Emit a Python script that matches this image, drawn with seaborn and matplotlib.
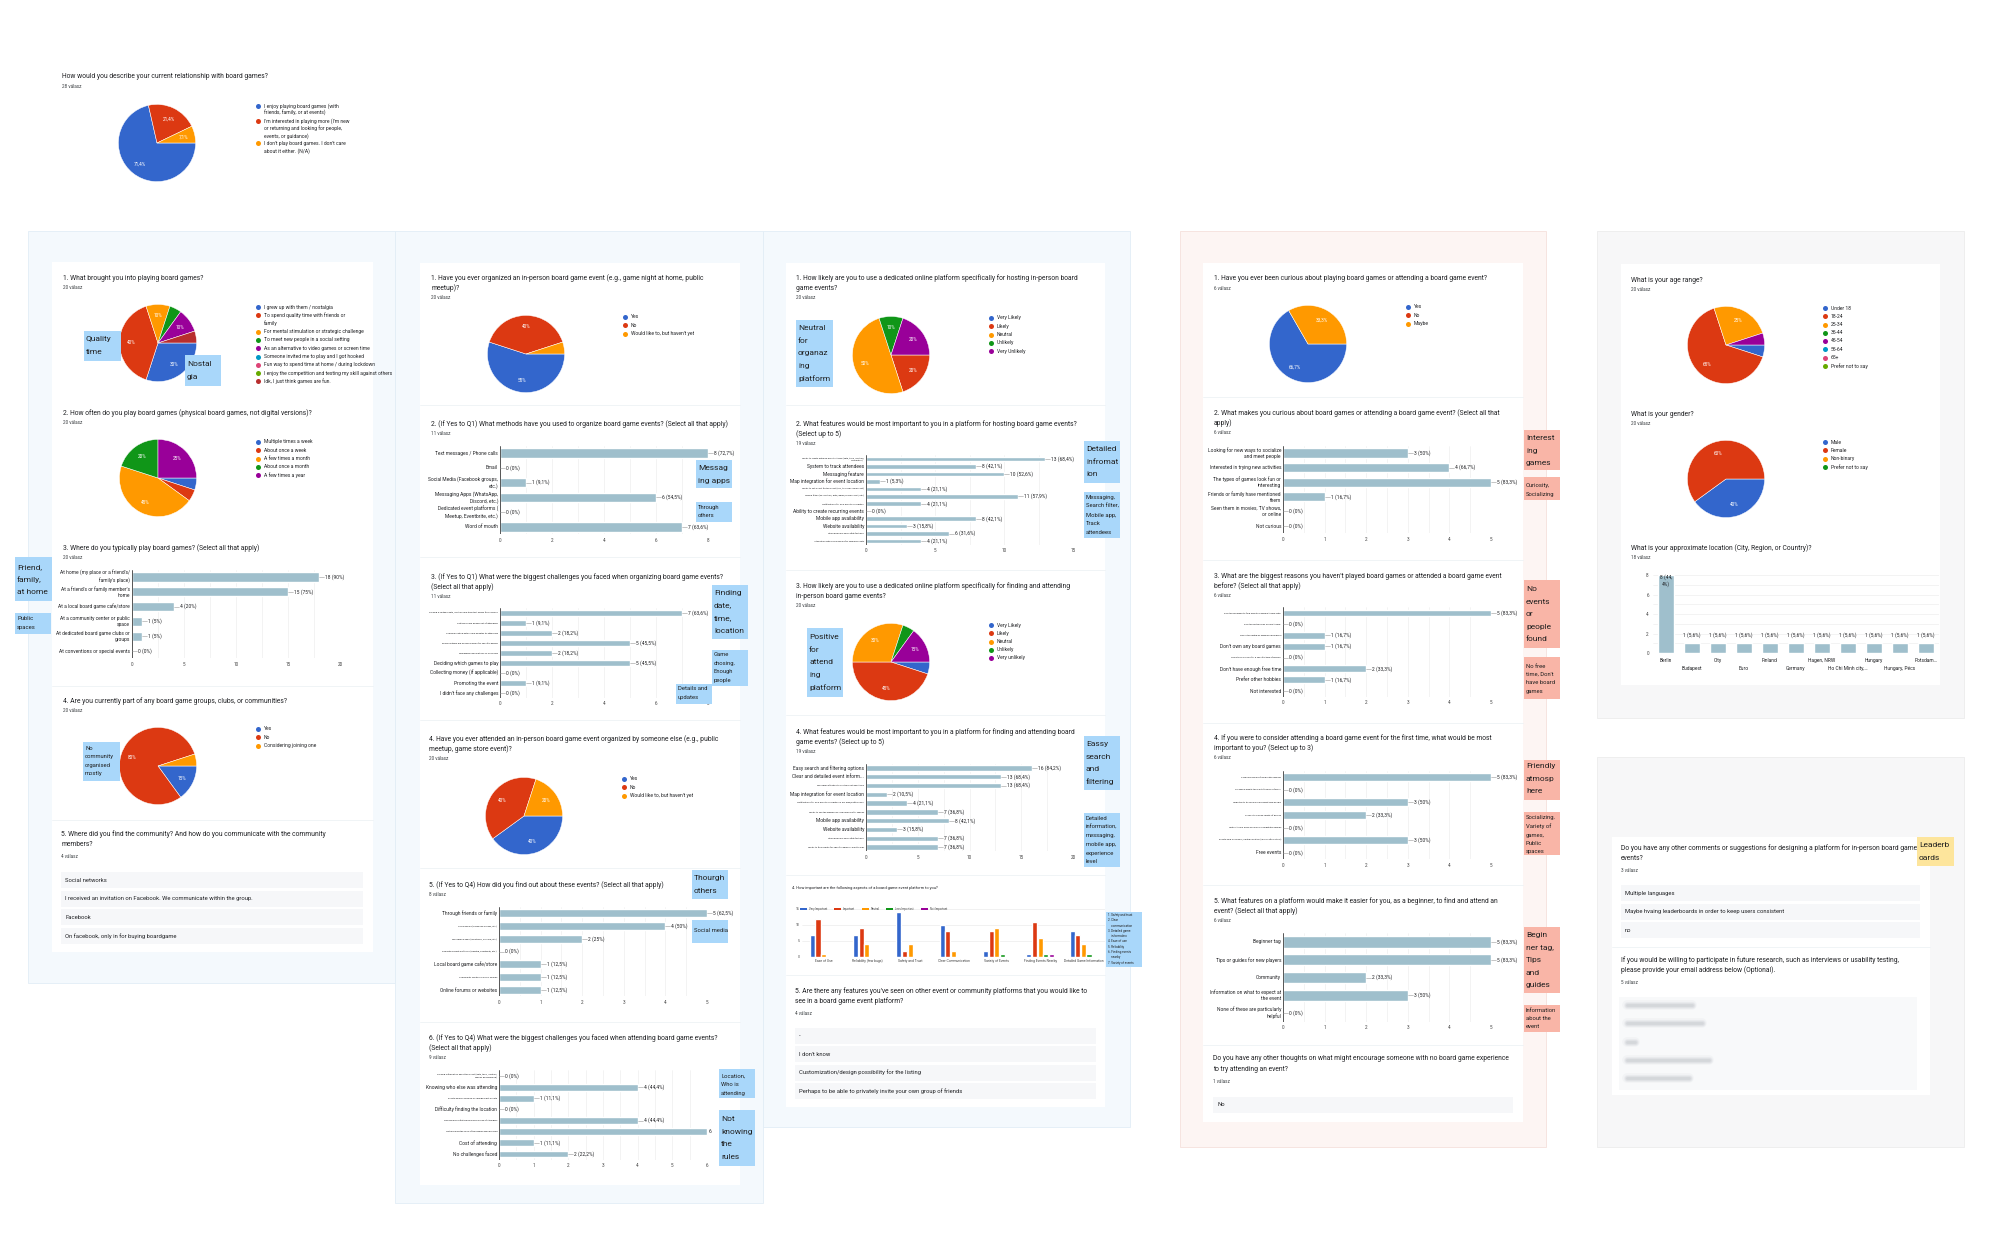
import numpy as np
import pandas as pd
import matplotlib
matplotlib.use("Agg")
from matplotlib import pyplot as plt
from matplotlib.patches import Rectangle
import seaborn as sns

sns.set_theme(style="white")
plt.rcParams["font.family"] = ["Roboto", "DejaVu Sans"]

W, H = 2000, 1257
GOOGLE = ["#3366cc", "#dc3912", "#ff9900", "#109618", "#990099",
          "#0099c6", "#dd4477", "#66aa00", "#b82e2e"]
BAR = "#9fbfcc"
BLUE_NOTE = "#a9d7fa"
RED_NOTE = "#f9b5a7"
YELLOW_NOTE = "#fde59c"
INK = "#202124"

# ---------------- data ----------------
relation_labels = ["I enjoy playing board games (with\nfriends, family, or at events)",
                   "I'm interested in playing more (I'm new\nor returning and looking for people,\nevents, or guidance)",
                   "I don't play board games. I don't care\nabout it either. (N/A)"]
relation_counts = [20, 6, 2]

# column 1 - board game habits
brought_labels = ["I grew up with them / nostalgia",
                  "To spend quality time with friends or\nfamily",
                  "For mental stimulation or strategic challenge",
                  "To meet new people in a social setting",
                  "As an alternative to video games or screen time",
                  "Someone invited me to play and I got hooked",
                  "Fun way to spend time at home / during lockdown",
                  "I enjoy the competition and testing my skill against others",
                  "Idk, I just think games are fun."]
brought_counts = [6, 8, 2, 1, 2, 0, 0, 0, 1]

often_labels = ["Multiple times a week", "About once a week", "A few times a month",
                "About once a month", "A few times a year"]
often_counts = [1, 1, 9, 4, 5]

where_labels = ["At home (my place or a friend's/\nfamily's place)",
                "At a friend's or family member's\nhome",
                "At a local board game cafe/store",
                "At a community center or public\nspace",
                "At dedicated board game clubs or\ngroups",
                "At conventions or special events"]
where_counts = [18, 15, 4, 1, 1, 0]

community_labels = ["Yes", "No", "Considering joining one"]
community_counts = [3, 16, 1]

community_answers = ["Social networks",
                     "I received an invitation on Facebook. We communicate within the group.",
                     "Facebook",
                     "On facebook, only in for buying boardgame"]

# column 2 - organizers / attendees
organized_labels = ["Yes", "No", "Would like to, but haven't yet"]
organized_counts = [11, 8, 1]

methods_labels = ["Text messages / Phone calls", "Email",
                  "Social Media (Facebook groups,\netc.)",
                  "Messaging Apps (WhatsApp,\nDiscord, etc.)",
                  "Dedicated event platforms (\nMeetup, Eventbrite, etc.)",
                  "Word of mouth"]
methods_counts = [8, 0, 1, 6, 0, 7]

org_problem_labels = ["Finding a suitable date, location and time that works for everyone",
                      "Getting a clear headcount of attendees",
                      "Communicating details and updates to attendees",
                      "Ensuring there are enough players for specific games",
                      "Managing cancellations or no-shows",
                      "Deciding which games to play",
                      "Collecting money (if applicable)",
                      "Promoting the event",
                      "I didn't face any challenges"]
org_problem_counts = [7, 1, 2, 5, 2, 5, 0, 1, 0]

attended_labels = ["Yes", "No", "Would like to, but haven't yet"]
attended_counts = [8, 8, 4]

found_labels = ["Through friends or family",
                "Social Media (Facebook groups, etc.)",
                "Messaging Apps (WhatsApp, Discord, etc.)",
                "Dedicated event platforms (Meetup, Eventbrite, etc.)",
                "Local board game cafe/store",
                "Community centers or public spaces",
                "Online forums or websites"]
found_counts = [5, 4, 2, 0, 1, 1, 1]

att_problem_labels = ["Finding information about the event (date, time, location,\ngames being played)",
                      "Knowing who else was attending",
                      "Events being cancelled or changed last minute",
                      "Difficulty finding the location",
                      "Feeling uncomfortable joining a group of strangers",
                      "Not knowing the rules of the games being played",
                      "Cost of attending",
                      "No challenges faced"]
att_problem_counts = [0, 4, 1, 0, 4, 6, 1, 2]

# column 3 - platform
hosting_labels = ["Very Likely", "Likely", "Neutral", "Unlikely", "Very Unlikely"]
hosting_counts = [0, 4, 10, 2, 4]

host_feature_labels = ["Ability to create detailed event listings (date, time, location,\ndescription)",
                       "System to track attendees", "Messaging feature",
                       "Map integration for event location",
                       "Ability to set a cost for the event (e.g., to cover venue cost)",
                       "Search filters (by location, date, game, player count, etc.)",
                       "Notifications for new events or updates",
                       "Ability to create recurring events",
                       "Mobile app availability", "Website availability",
                       "Strong privacy and safety features",
                       "Integration with social media for sharing events"]
host_feature_counts = [13, 8, 10, 1, 4, 11, 4, 0, 8, 3, 6, 4]

attending_labels = ["Very Likely", "Likely", "Neutral", "Unlikely", "Very unlikely"]
attending_counts = [1, 9, 6, 1, 3]

find_feature_labels = ["Easy search and filtering options",
                       "Clear and detailed event inform...",
                       "Messaging feature to ask the host questions",
                       "Map integration for event location",
                       "Notifications for new events or updates in my area/preferences",
                       "Ability to see the experience level required for games",
                       "Mobile app availability", "Website availability",
                       "Strong privacy and safety features",
                       "Ability to find events for specific games I want to play"]
find_feature_counts = [16, 13, 13, 2, 4, 7, 8, 3, 7, 7]

aspect_labels = ["Ease of Use", "Reliability (few bugs)", "Safety and Trust",
                 "Clear Communication", "Variety of Events", "Finding Events Nearby",
                 "Detailed Game Information"]
importance_levels = ["Very Important", "Important", "Neutral", "Less Important", "Not Important"]
very_important = [7, 7, 14, 10, 2, 1, 8]
important = [12, 9, 2, 8, 8, 11, 7]
neutral = [1, 4, 4, 2, 9, 6, 4]
less_important = [0, 0, 0, 0, 1, 1, 1]
not_important = [0, 0, 0, 0, 0, 1, 0]

other_feature_answers = ["-", "I don't know",
                         "Customization/design possibility for the listing",
                         "Perhaps to be able to privately invite your own group of friends"]

# column 4 - non players
curious_labels = ["Yes", "No", "Maybe"]
curious_counts = [4, 0, 2]

curious_why_labels = ["Looking for new ways to socialize\nand meet people",
                      "Interested in trying new activities",
                      "The types of games look fun or\ninteresting",
                      "Friends or family have mentioned\nthem",
                      "Seen them in movies, TV shows,\nor online",
                      "Not curious"]
curious_why_counts = [3, 4, 5, 1, 0, 0]

not_played_labels = ["Don't know where to find events or people to play with",
                     "Don't know the rules or how to play",
                     "Feel intimidated by experienced players",
                     "Don't own any board games",
                     "Think they are only for a specific type of person",
                     "Don't have enough free time",
                     "Prefer other hobbies",
                     "Not interested"]
not_played_counts = [5, 0, 1, 1, 0, 2, 1, 0]

first_time_labels = ["A welcoming and friendly atmosphere",
                     "To spend quality time with friends or family",
                     "Opportunity to socialize and meet new people",
                     "Access to a wide variety of games",
                     "Option to join more serious or competitive games",
                     "Events held in a public, neutral location (like a cafe or store)",
                     "Free events"]
first_time_counts = [5, 0, 3, 2, 0, 3, 0]

beginner_labels = ["Beginner tag", "Tips or guides for new players", "Community",
                   "Information on what to expect at\nthe event",
                   "None of these are particularly\nhelpful"]
beginner_counts = [5, 5, 2, 3, 0]

encourage_answers = ["No"]

# column 5 - demographics
age_labels = ["Under 18", "18-24", "25-34", "35-44", "45-54", "55-64", "65+", "Prefer not to say"]
age_counts = [1, 13, 5, 0, 1, 0, 0, 0]

gender_labels = ["Male", "Female", "Non-binary", "Prefer not to say"]
gender_counts = [8, 12, 0, 0]

location_labels = ["Berlin", "Budapest", "City", "Euro", "Finland", "Germany", "Hagen, NRW",
                   "Ho Chi Minh city,…", "Hungary", "Hungary, Pécs", "Potsdam…"]
location_counts = [8, 1, 1, 1, 1, 1, 1, 1, 1, 1, 1]

comment_answers = ["Multiple languages",
                   "Maybe hvaing leaderboards in order to keep users consistent",
                   "no"]


# ---------------- helpers ----------------
fig = plt.figure(figsize=(20, 12.57), dpi=100)
fig.patch.set_facecolor("white")

TITLE = 4.9
SMALL = 3.5


def frac(x0, y0, x1, y1):
    return [x0 / W, 1 - y1 / H, (x1 - x0) / W, (y1 - y0) / H]


def canvas(z):
    ax = fig.add_axes([0, 0, 1, 1], zorder=z)
    ax.set_xlim(0, W)
    ax.set_ylim(H, 0)
    ax.set_autoscale_on(False)
    ax.axis("off")
    return ax


bg = canvas(-10)
fg = canvas(10)


def block(ax, x0, y0, x1, y1, color, edge="none", lw=0):
    ax.add_patch(Rectangle((x0, y0), x1 - x0, y1 - y0, facecolor=color,
                           edgecolor=edge, linewidth=lw))


def write(x, y, s, size=TITLE, color=INK, ha="left"):
    fg.text(x, y, s, fontsize=size, color=color, va="center", ha=ha)


def question(x, y, lines, count_text, gap=9.5):
    for i, s in enumerate(lines):
        write(x, y + i * 10.3, s)
    write(x, y + (len(lines) - 1) * 10.3 + gap, count_text, size=3.3, color="#3c4043")


def pct(v, total):
    p = v / total * 100
    if abs(p - round(p)) < 0.05:
        return f"{round(p)}%"
    return f"{p:.1f}%".replace(".", ",")


def pie(cx, cy, r, counts):
    ax = fig.add_axes(frac(cx - r, cy - r, cx + r, cy + r))
    vals = [c for c in counts if c > 0]
    cols = [GOOGLE[i] for i, c in enumerate(counts) if c > 0]
    ax.pie(vals, colors=cols, startangle=0, counterclock=False,
           wedgeprops=dict(edgecolor="white", linewidth=0.35))
    ax.set_xlim(-1.01, 1.01)
    ax.set_ylim(-1.01, 1.01)
    total = sum(vals)
    start = 0.0
    for v in vals:
        share = v / total
        mid = np.deg2rad(start - share * 180)
        if share > 0.06:
            ax.text(0.7 * np.cos(mid), 0.7 * np.sin(mid), pct(v, total),
                    ha="center", va="center", color="white", fontsize=3.4)
        start -= share * 360


def legend(x, y, labels, colors, dy=8.25):
    line = 0
    for lab, col in zip(labels, colors):
        fg.scatter([x], [y + line * dy], s=13, color=col, linewidths=0)
        parts = lab.split("\n")
        for j, part in enumerate(parts):
            write(x + 6, y + (line + j) * dy, part, size=3.6)
        line += len(parts)


def hbar(x0, x1, yc0, yc1, labels, counts, total, tmax, step, tiny=(), covered=()):
    n = len(counts)
    gap = (yc1 - yc0) / (n - 1)
    ax = fig.add_axes(frac(x0, yc0 - gap / 2, x1, yc1 + gap / 2))
    ax.set_facecolor("none")
    df = pd.DataFrame({"label": labels, "count": counts})
    sns.barplot(data=df, x="count", y="label", orient="h", color=BAR,
                saturation=1, width=0.62, ax=ax)
    ppu = (x1 - x0) / tmax
    major = np.arange(0, tmax + step / 2, step)
    ax.set_xticks(major)
    ax.set_xticklabels([f"{t:g}" for t in major])
    ax.set_xticks(np.arange(0, tmax + step / 4, step / 2), minor=True)
    ax.grid(True, axis="x", which="both", color="#ebebeb", lw=0.4)
    ax.set_axisbelow(True)
    ax.tick_params(axis="x", which="both", length=0, labelsize=3.3,
                   labelcolor="#444444", pad=2.5)
    ax.set_yticks([])
    ax.set_xlim(0, tmax)
    ax.set_ylim(n - 0.5, -0.5)
    ax.set_xlabel("")
    ax.set_ylabel("")
    sns.despine(ax=ax, left=True, bottom=True)
    ax.axvline(0, color="#3c3c3c", lw=0.6)
    for i, (lab, v) in enumerate(zip(labels, counts)):
        ax.text(-2 / ppu, i, lab, ha="right", va="center",
                fontsize=1.7 if i in tiny else SMALL, color=INK, linespacing=1.3)
        # a sticky note hides everything but the count on covered rows
        value = f"{v}" if i in covered else f"{v} ({pct(v, total)})"
        if i in covered:
            ax.text(v + 2 / ppu, i, value, va="center", fontsize=SMALL, color=INK)
        else:
            ax.plot([v, v + 5 / ppu], [i, i], color="#9a9a9a", lw=0.4, clip_on=False)
            ax.text(v + 6 / ppu, i, value, va="center", fontsize=SMALL, color=INK)
    return ax


def answers(x0, x1, top, texts, step=18.6, h=16):
    for i, s in enumerate(texts):
        y = top + i * step
        block(bg, x0, y, x1, y + h, "#f6f7f9")
        write(x0 + 4, y + h / 2, s, size=4.2)


def note(x0, y0, x1, y1, lines, ytop, color, size=6.0, dy=12.6):
    block(fg, x0, y0, x1, y1, color)
    for i, s in enumerate(lines):
        write(x0 + 2, ytop + i * dy, s, size=size, color="#1f1f1f")


# ---------------- background panels ----------------
for x0, y0, x1, y1, col, edge in [(28, 231, 395, 983, "#f4f9fd", "#e2edf6"),
                                  (395, 231, 763, 1203, "#f4f9fd", "#e2edf6"),
                                  (763, 231, 1130, 1127, "#f4f9fd", "#e2edf6"),
                                  (1180, 231, 1546, 1147, "#fdf5f3", "#f5e1dc"),
                                  (1597, 231, 1964, 718, "#f7f7f8", "#ececec"),
                                  (1597, 757, 1964, 1147, "#f7f7f8", "#ececec")]:
    block(bg, x0, y0, x1, y1, col, edge, 0.6)

for x0, y0, x1, y1 in [(52, 262, 373, 952), (420, 263, 740, 1185), (786, 263, 1105, 1107),
                       (1203, 263, 1523, 1122), (1621, 264, 1940, 685), (1612, 837, 1930, 1095)]:
    block(bg, x0, y0, x1, y1, "white")

# faint dividers between question cards
for x0, x1, yy in [(52, 373, 686), (52, 373, 820), (420, 740, 405), (420, 740, 557),
                   (420, 740, 720), (420, 740, 868), (420, 740, 1022), (786, 1105, 405),
                   (786, 1105, 570), (786, 1105, 715), (786, 1105, 875), (786, 1105, 975),
                   (1203, 1523, 397), (1203, 1523, 560), (1203, 1523, 723), (1203, 1523, 885),
                   (1203, 1523, 1045), (1612, 1930, 947)]:
    bg.plot([x0, x1], [yy, yy], color="#eef2f5", lw=0.6)

# ---------------- top question ----------------
question(62, 77, ["How would you describe your current relationship with board games?"], "28 válasz")
pie(157, 143, 39, relation_counts)
legend(258, 106, relation_labels, GOOGLE, dy=7.45)

# ---------------- column 1 ----------------
question(63, 278, ["1. What brought you into playing board games?"], "20 válasz")
pie(158, 343, 39, brought_counts)
legend(258, 307, brought_labels, GOOGLE)

question(63, 413, ["2. How often do you play board games (physical board games, not digital versions)?"], "20 válasz")
pie(158, 478, 39, often_counts)
legend(258, 442, often_labels, GOOGLE)

question(63, 548, ["3. Where do you typically play board games? (Select all that apply)"], "20 válasz")
hbar(132, 340, 577, 651, where_labels, where_counts, 20, 20, 5)

question(63, 701, ["4. Are you currently part of any board game groups, clubs, or communities?"], "20 válasz")
pie(158, 766, 39, community_counts)
legend(258, 729, community_labels, GOOGLE)

question(61, 834, ["5. Where did you find the community? And how do you communicate with the community",
                   "members?"], "4 válasz", gap=12)
answers(61, 363, 872, community_answers)

# ---------------- column 2 ----------------
question(431, 278, ["1. Have you ever organized an in-person board game event (e.g., game night at home, public",
                    "meetup)?"], "20 válasz")
pie(526, 354, 39, organized_counts)
legend(625, 317, organized_labels, GOOGLE)

question(431, 424, ["2. (If Yes to Q1) What methods have you used to organize board game events? (Select all that apply)"],
         "11 válasz")
hbar(500, 708, 453, 527, methods_labels, methods_counts, 11, 8, 2)

question(431, 577, ["3. (If Yes to Q1) What were the biggest challenges you faced when organizing board game events?",
                    "(Select all that apply)"], "11 válasz")
hbar(500, 708, 613, 693, org_problem_labels, org_problem_counts, 11, 8, 2, tiny=(0, 1, 2, 3, 4))

question(429, 739, ["4. Have you ever attended an in-person board game event organized by someone else (e.g., public",
                    "meetup, game store event)?"], "20 válasz")
pie(524, 816, 39, attended_counts)
legend(624, 779, attended_labels, GOOGLE)

question(429, 885, ["5. (If Yes to Q4) How did you find out about these events? (Select all that apply)"], "8 válasz")
hbar(499, 707, 913, 990, found_labels, found_counts, 8, 5, 1, tiny=(1, 2, 3, 5))

question(429, 1038, ["6. (If Yes to Q4) What were the biggest challenges you faced when attending board game events?",
                     "(Select all that apply)"], "9 válasz")
hbar(499, 707, 1076, 1154, att_problem_labels, att_problem_counts, 9, 6, 1,
     tiny=(0, 2, 4, 5), covered=(5,))

# ---------------- column 3 ----------------
question(796, 278, ["1. How likely are you to use a dedicated online platform specifically for hosting in-person board",
                    "game events?"], "20 válasz")
pie(891, 355, 39, hosting_counts)
legend(991, 318, hosting_labels, GOOGLE)

question(796, 424, ["2. What features would be most important to you in a platform for hosting board game events?",
                    "(Select up to 5)"], "19 válasz")
hbar(866, 1073, 459, 541, host_feature_labels, host_feature_counts, 19, 15, 5, tiny=(0, 4, 5, 6, 10, 11))

question(796, 586, ["3. How likely are you to use a dedicated online platform specifically for finding and attending",
                    "in-person board game events?"], "20 válasz")
pie(891, 662, 39, attending_counts)
legend(991, 625, attending_labels, GOOGLE)

question(796, 732, ["4. What features would be most important to you in a platform for finding and attending board",
                    "game events? (Select up to 5)"], "19 válasz")
hbar(866, 1073, 768, 847, find_feature_labels, find_feature_counts, 19, 20, 5, tiny=(2, 4, 5, 8, 9))

# grouped importance chart
write(792, 888, "4. How important are the following aspects of a board game event platform to you?", size=2.9)
imp = pd.DataFrame({"aspect": aspect_labels * len(importance_levels),
                    "level": np.repeat(importance_levels, len(aspect_labels)),
                    "count": very_important + important + neutral + less_important + not_important})
ax = fig.add_axes(frac(802, 909, 1105, 957))
ax.set_facecolor("none")
sns.barplot(data=imp, x="aspect", y="count", hue="level", palette=GOOGLE[:5], saturation=1,
            width=0.65, gap=0.1, legend=False, ax=ax)
ax.set_ylim(0, 15)
ax.set_xlim(-0.5, len(aspect_labels) - 0.5)
ax.set_yticks([0, 5, 10, 15])
ax.grid(True, axis="y", color="#e6e6e6", lw=0.4)
ax.set_axisbelow(True)
ax.tick_params(length=0, labelsize=2.4, labelcolor="#444444", pad=1.5)
ax.set_xlabel("")
ax.set_ylabel("")
sns.despine(ax=ax, left=True, bottom=True)
ax.axhline(0, color="#3c3c3c", lw=0.5)
for lx, lev, col in zip([800, 834, 862, 886, 921], importance_levels, GOOGLE):
    block(fg, lx, 907.8, lx + 7, 910.2, col)
    write(lx + 9, 909, lev, size=2.0, color="#444444")

question(795, 991, ["5. Are there any features you've seen on other event or community platforms that you would like to",
                    "see in a board game event platform?"], "4 válasz", gap=12)
answers(795, 1096, 1028, other_feature_answers, step=18.3)

# ---------------- column 4 ----------------
question(1214, 279, ["1. Have you ever been curious about playing board games or attending a board game event?"], "6 válasz")
pie(1308, 344, 39, curious_counts)
legend(1408, 307, curious_labels, GOOGLE)

question(1214, 413, ["2. What makes you curious about board games or attending a board game event? (Select all that",
                     "apply)"], "6 válasz")
hbar(1283, 1491, 453, 526, curious_why_labels, curious_why_counts, 6, 5, 1)

question(1214, 576, ["3. What are the biggest reasons you haven't played board games or attended a board game event",
                     "before? (Select all that apply)"], "6 válasz")
hbar(1283, 1491, 613, 691, not_played_labels, not_played_counts, 6, 5, 1, tiny=(0, 1, 2, 4))

question(1214, 738, ["4. If you were to consider attending a board game event for the first time, what would be most",
                     "important to you? (Select up to 3)"], "6 válasz")
hbar(1283, 1491, 777, 853, first_time_labels, first_time_counts, 6, 5, 1, tiny=(0, 1, 2, 3, 4, 5))

question(1214, 901, ["5. What features on a platform would make it easier for you, as a beginner, to find and attend an",
                     "event? (Select all that apply)"], "6 válasz")
hbar(1283, 1491, 942, 1013, beginner_labels, beginner_counts, 6, 5, 1)

question(1213, 1059, ["Do you have any other thoughts on what might encourage someone with no board game experience",
                      "to try attending an event?"], "1 válasz", gap=12)
answers(1213, 1513, 1097, encourage_answers)

# ---------------- column 5 ----------------
question(1631, 280, ["What is your age range?"], "20 válasz")
pie(1726, 345, 39, age_counts)
legend(1825, 308, age_labels, GOOGLE)

question(1631, 414, ["What is your gender?"], "20 válasz")
pie(1726, 479, 39, gender_counts)
legend(1825, 442, gender_labels, GOOGLE)

question(1631, 548, ["What is your approximate location (City, Region, or Country)?"], "18 válasz")
ax = fig.add_axes(frac(1653, 575, 1939, 653))
ax.set_facecolor("none")
sns.barplot(x=location_labels, y=location_counts, color=BAR, saturation=1, width=0.6, ax=ax)
ax.set_ylim(0, 8)
ax.set_xlim(-0.5, len(location_labels) - 0.5)
ax.set_yticks([0, 2, 4, 6, 8])
ax.set_yticks([1, 3, 5, 7], minor=True)
ax.grid(True, axis="y", which="both", color="#ebebeb", lw=0.4)
ax.set_axisbelow(True)
ax.set_xticks([])
ax.tick_params(axis="y", which="both", length=0, labelsize=3.3, labelcolor="#444444", pad=3)
ax.set_xlabel("")
ax.set_ylabel("")
sns.despine(ax=ax, left=True, bottom=True)
ax.axhline(0, color="#3c3c3c", lw=0.5)
loc_total = sum(location_counts)
for i, (lab, v) in enumerate(zip(location_labels, location_counts)):
    ax.text(i, -0.75 if i % 2 == 0 else -1.55, lab, ha="center", va="center",
            fontsize=SMALL, color=INK)
    if v > 4:
        txt = f"{v} ({pct(v, loc_total)})"
        ax.text(i, v - 0.55, txt[:6] + "\n" + txt[6:], ha="center", va="center",
                fontsize=SMALL, color=INK, linespacing=1.2)
    else:
        ax.text(i, v + 0.85, f"{v} ({pct(v, loc_total)})", ha="center", va="center",
                fontsize=SMALL, color=INK)

question(1621, 848, ["Do you have any other comments or suggestions for designing a platform for in-person board game",
                     "events?"], "3 válasz", gap=12)
answers(1621, 1920, 885, comment_answers, step=18.5)

question(1621, 960, ["If you would be willing to participate in future research, such as interviews or usability testing,",
                     "please provide your email address below (Optional)."], "5 válasz", gap=12)
block(bg, 1619, 997, 1917, 1090, "#f8f9fa")
for yy, x1 in zip([1005, 1023, 1042, 1060, 1078], [1692, 1702, 1635, 1709, 1689]):
    for lw, a in [(7, 0.05), (5, 0.08), (3.5, 0.1), (2, 0.12)]:
        bg.plot([1627, x1], [yy, yy], color="#8a9099", lw=lw, alpha=a, solid_capstyle="round")

# ---------------- annotation sticky notes ----------------
big = [(84, 331, 121, 361, ["Quality", "time"], 339, BLUE_NOTE),
       (185, 355, 221, 386, ["Nostal", "gia"], 364, BLUE_NOTE),
       (15, 557, 52, 601, ["Friend,", "family,", "at home"], 567, BLUE_NOTE),
       (696, 460, 732, 488, ["Messag", "ing apps"], 468, BLUE_NOTE),
       (712, 585, 748, 639, ["Finding", "date,", "time,", "location"], 593, BLUE_NOTE),
       (692, 870, 728, 899, ["Thourgh", "others"], 878, BLUE_NOTE),
       (719, 1110, 755, 1166, ["Not", "knowing", "the", "rules"], 1119, BLUE_NOTE),
       (796, 320, 833, 387, ["Neutral", "for", "organaz", "ing", "platform"], 328, BLUE_NOTE),
       (1084, 441, 1120, 483, ["Detailed", "infromat", "ion"], 449, BLUE_NOTE),
       (807, 628, 843, 697, ["Positive", "for", "attend", "ing", "platform"], 637, BLUE_NOTE),
       (1084, 736, 1120, 790, ["Eassy", "search", "and", "filtering"], 744, BLUE_NOTE),
       (1524, 430, 1560, 470, ["Interest", "ing", "games"], 438, RED_NOTE),
       (1524, 580, 1560, 648, ["No", "events", "or", "people", "found"], 589, RED_NOTE),
       (1524, 760, 1560, 800, ["Friendly", "atmosp", "here"], 766, RED_NOTE),
       (1524, 927, 1560, 993, ["Begin", "ner tag,", "Tips", "and", "guides"], 935, RED_NOTE),
       (1917, 837, 1954, 866, ["Leaderb", "oards"], 845, YELLOW_NOTE)]
for x0, y0, x1, y1, lines, yt, col in big:
    note(x0, y0, x1, y1, lines, yt, col)

small = [(15, 613, 51, 634, ["Public", "spaces"], 619, BLUE_NOTE),
         (83, 742, 120, 781, ["No", "community", "organised", "mostly"], 748, BLUE_NOTE),
         (696, 502, 732, 522, ["Through", "others"], 507, BLUE_NOTE),
         (712, 650, 748, 686, ["Game", "chosing,", "Enough", "people"], 655, BLUE_NOTE),
         (676, 684, 712, 704, ["Details and", "updates"], 689, BLUE_NOTE),
         (692, 920, 728, 943, ["Social media"], 930, BLUE_NOTE),
         (719, 1069, 755, 1098, ["Location,", "Who is", "attending"], 1076, BLUE_NOTE),
         (1084, 492, 1120, 538, ["Messaging,", "Search filter,", "Mobile app,", "Track", "attendees"], 498, BLUE_NOTE),
         (1084, 813, 1120, 867, ["Detailed", "information,", "messaging,", "mobile app,", "experience", "level"], 819, BLUE_NOTE),
         (1524, 477, 1560, 500, ["Curiosity,", "Socializing"], 486, RED_NOTE),
         (1524, 657, 1560, 699, ["No free", "time, Don't", "have board", "games"], 666, RED_NOTE),
         (1524, 812, 1560, 855, ["Socializing,", "Variety of", "games,", "Public", "spaces"], 818, RED_NOTE),
         (1524, 1005, 1560, 1032, ["Information", "about the", "event"], 1010, RED_NOTE)]
for x0, y0, x1, y1, lines, yt, col in small:
    note(x0, y0, x1, y1, lines, yt, col, size=4.2, dy=8.5)

note(1106, 912, 1142, 967, ["1. Safety and trust", "2. Clear", "    communication", "3. Detailed game",
                            "    informatino", "4. Ease of use", "5. Reliability", "6. Finding events",
                            "    nearby", "7. Variety of events"], 915, BLUE_NOTE, size=2.2, dy=5.3)

fig.savefig("out.png", dpi=100)
